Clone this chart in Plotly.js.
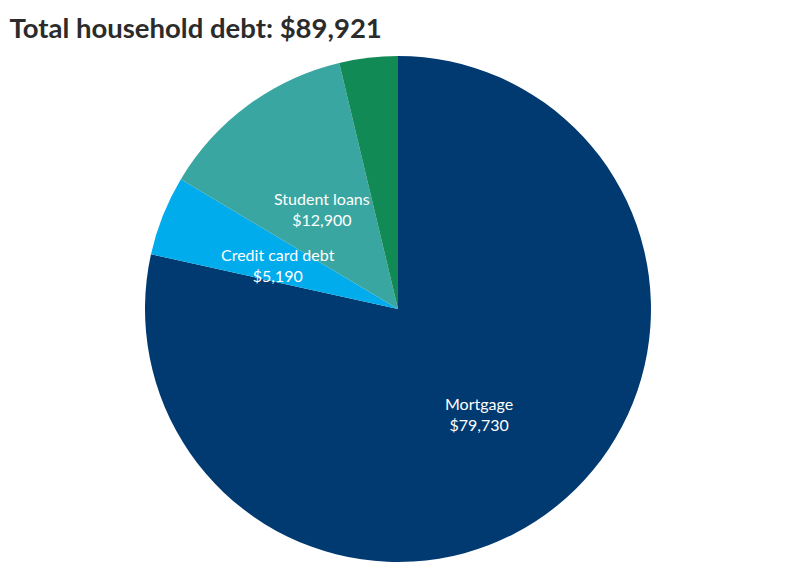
<!DOCTYPE html>
<html>
<head>
<meta charset="utf-8">
<script src="https://cdn.plot.ly/plotly-3.0.1.min.js"></script>
<style>
  html, body { margin: 0; padding: 0; background: #fff; }
  #chart { width: 794px; height: 575px; }
</style>
</head>
<body>
<div id="chart"></div>
<script>
// debt categories, in drawing order (clockwise from 12 o'clock)
var categories = ['Mortgage', 'Credit card debt', 'Student loans', 'Auto loans'];
var amounts = [79730, 5190, 12900, 3790];
var amountLabels = ['$79,730', '$5,190', '$12,900', ''];
var sliceColors = ['#003a70', '#00acec', '#3aa6a2', '#128a55'];
var chartTitle = 'Total household debt: $89,921';

var W = 794, H = 575;
var dom = { x: [0.1826, 0.8199], y: [0.0226, 0.9026] };
var labelFont = { family: 'Lato, "Open Sans", sans-serif', size: 16, color: '#ffffff' };

var data = [{
  type: 'pie',
  labels: categories,
  values: amounts,
  textinfo: 'none',
  sort: false,
  direction: 'clockwise',
  rotation: 0,
  hoverinfo: 'label+value',
  marker: {
    colors: sliceColors,
    line: { width: 0 }
  },
  domain: dom
}];

// slice labels sit about halfway out along each slice's middle angle
var total = amounts.reduce(function (a, b) { return a + b; }, 0);
var cx = (dom.x[0] + dom.x[1]) / 2 * W;
var cy = (dom.y[0] + dom.y[1]) / 2 * H;
var R = Math.min((dom.x[1] - dom.x[0]) * W, (dom.y[1] - dom.y[0]) * H) / 2;
var annotations = [];
var cum = 0;
amounts.forEach(function (v, i) {
  var mid = (cum + v / 2) / total * 2 * Math.PI;
  cum += v;
  if (!amountLabels[i]) return;
  annotations.push({
    xref: 'paper', yref: 'paper',
    x: (cx + 0.51 * R * Math.sin(mid)) / W,
    y: (cy + 0.51 * R * Math.cos(mid)) / H,
    xanchor: 'center',
    yanchor: 'middle',
    yshift: -4,
    text: categories[i] + '<br>' + amountLabels[i],
    showarrow: false,
    font: labelFont,
    align: 'center'
  });
});

var layout = {
  width: W,
  height: H,
  showlegend: false,
  title: {
    text: '<b>' + chartTitle + '</b>',
    font: { family: 'Lato, "Open Sans", sans-serif', size: 27.5, color: '#2b2b2b' },
    x: 0.012,
    xanchor: 'left',
    xref: 'container',
    yref: 'container',
    y: 0.951,
    yanchor: 'middle'
  },
  annotations: annotations,
  margin: { t: 0, l: 0, r: 0, b: 0 },
  paper_bgcolor: '#ffffff'
};

Plotly.newPlot('chart', data, layout, { displayModeBar: false, staticPlot: true });
</script>
</body>
</html>
